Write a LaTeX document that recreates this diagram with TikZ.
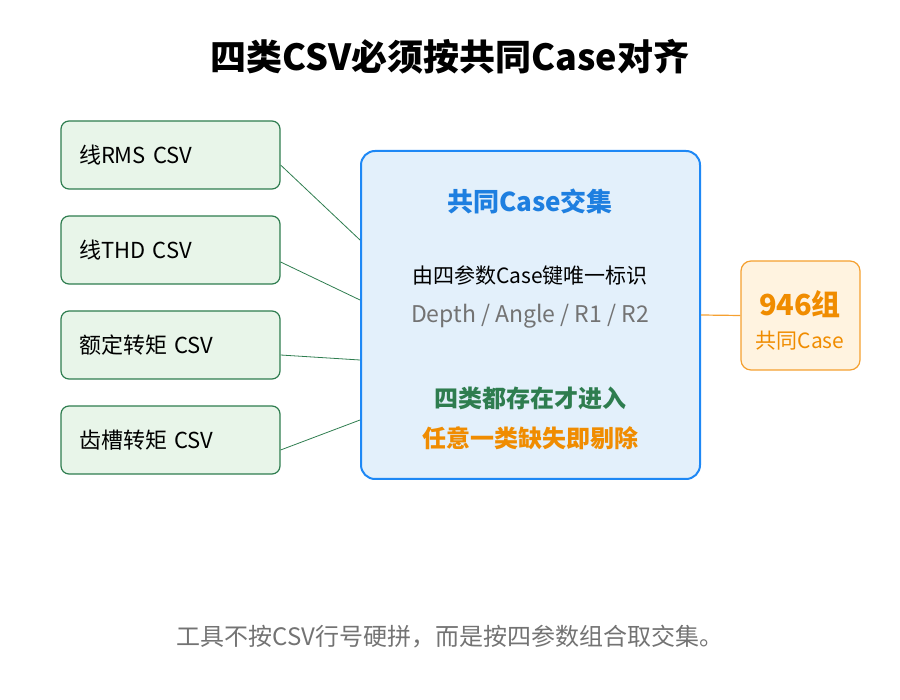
\documentclass[tikz,border=0pt]{standalone}
\usepackage{fontspec}
\setmainfont{Noto Sans CJK SC}
\definecolor{gbd}{HTML}{2E7D4F}
\definecolor{gfill}{HTML}{E8F5E9}
\definecolor{bbd}{HTML}{1E88F5}
\definecolor{bfill}{HTML}{E3F0FB}
\definecolor{btxt}{HTML}{1E7FE0}
\definecolor{obd}{HTML}{F5A030}
\definecolor{ofill}{HTML}{FFF3E0}
\definecolor{otxt}{HTML}{F08C00}
\definecolor{gtxt}{HTML}{2E7D4F}
\begin{document}
\begin{tikzpicture}[x=1pt,y=-1pt,
  src/.style={draw=gbd,fill=gfill,rounded corners=8pt,line width=1.2pt,minimum width=219pt,minimum height=68pt,text width=183pt,inner xsep=18pt,align=left,font=\fontsize{22}{26}\selectfont},
  link/.style={draw=gbd,line width=0.8pt}]
\useasboundingbox (0,0) rectangle (900,700);
\node[font=\fontsize{36}{42}\selectfont\bfseries] (title) at (450,57) {四类CSV必须按共同Case对齐};
\node[src] (a) at (170.5,155) {线RMS CSV};
\node[src] (b) at (170.5,250) {线THD CSV};
\node[src] (c) at (170.5,345) {额定转矩 CSV};
\node[src] (d) at (170.5,440) {齿槽转矩 CSV};
\node[draw=bbd,fill=bfill,rounded corners=14pt,line width=2pt,minimum width=339pt,minimum height=328pt] (m) at (530.5,315) {};
\node[text=btxt,font=\fontsize{26}{30}\selectfont\bfseries] (mt) at (530,201) {共同Case交集};
\node[font=\fontsize{21}{25}\selectfont] (m1) at (530,276) {由四参数Case键唯一标识};
\node[text=black!55,font=\fontsize{23}{27}\selectfont] (m2) at (530,316) {Depth / Angle / R1 / R2};
\node[text=gtxt,font=\fontsize{24}{28}\selectfont\bfseries] (m3) at (530,398) {四类都存在才进入};
\node[text=otxt,font=\fontsize{24}{28}\selectfont\bfseries] (m4) at (530,438) {任意一类缺失即剔除};
\node[draw=obd,fill=ofill,rounded corners=10pt,line width=1.2pt,minimum width=119pt,minimum height=109pt] (r) at (800.5,315.5) {};
\node[text=otxt,font=\fontsize{29}{33}\selectfont\bfseries] (r1) at (800,304) {946组};
\node[text=otxt,font=\fontsize{21}{25}\selectfont] (r2) at (800,341) {共同Case};
\node[text=black!55,font=\fontsize{24}{28}\selectfont] (foot) at (450,637) {工具不按CSV行号硬拼，而是按四参数组合取交集。};
\draw[link] (a.east |- 0,165) -- (m.west |- 0,240);
\draw[link] (b.east |- 0,262) -- (m.west |- 0,300);
\draw[link] (c.east |- 0,355) -- (m.west |- 0,360);
\draw[link] (d.east |- 0,450) -- (m.west |- 0,420);
\draw[draw=obd,line width=1.2pt] (m.east) -- (r.west);
\end{tikzpicture}
\end{document}
